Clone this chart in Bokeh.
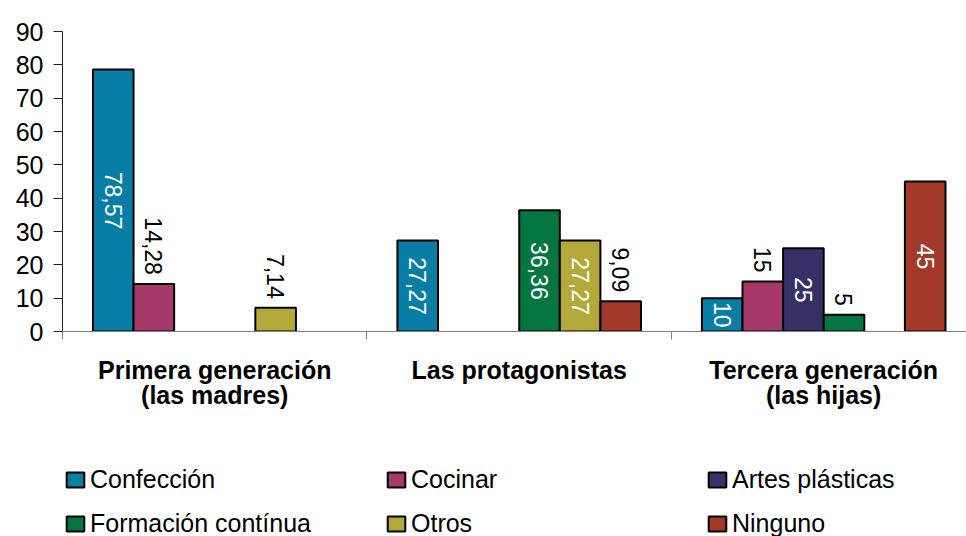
import math
from bokeh.plotting import figure
from bokeh.layouts import column
from bokeh.models import ColumnDataSource, Range1d, FixedTicker, Legend, LegendItem
from bokeh.core.properties import value
from bokeh.embed import file_html
from bokeh.resources import INLINE

# ---- data ----
groups = ["Primera generación\n(las madres)", "Las protagonistas", "Tercera generación\n(las hijas)"]
series_names = ["Confección", "Cocinar", "Artes plásticas", "Formación contínua", "Otros", "Ninguno"]
confeccion = [78.57, 27.27, 10]
cocinar = [14.28, None, 15]
artes = [None, None, 25]
formacion = [None, 36.36, 5]
otros = [7.14, 27.27, None]
ninguno = [None, 9.09, 45]
y_ticks = [0, 10, 20, 30, 40, 50, 60, 70, 80, 90]

series_values = [confeccion, cocinar, artes, formacion, otros, ninguno]
colors = ["#087DA6", "#A4396A", "#363067", "#03773F", "#B4A83A", "#A33A29"]

FONT = "Liberation Sans"

p = figure(width=966, height=440, output_backend="svg", toolbar_location=None,
           x_range=Range1d(0, 2.969), y_range=Range1d(0, 90),
           min_border_left=62, min_border_top=31, min_border_bottom=109, min_border_right=0,
           outline_line_color=None)
p.grid.visible = False

n = len(series_names)
slot = 0.8 / n
margin = 0.1


def fmt(v):
    if abs(v - round(v)) < 1e-9:
        return str(int(round(v)))
    return f"{v:.2f}".replace(".", ",")


sources = []
for i, (name, vals, col) in enumerate(zip(series_names, series_values, colors)):
    xs, tops = [], []
    for g, v in enumerate(vals):
        if v is None:
            continue
        xs.append(g + margin + slot * (i + 0.5))
        tops.append(v)
    src = ColumnDataSource(dict(x=xs, top=tops))
    sources.append(src)
    p.vbar(x="x", top="top", width=slot, bottom=0, source=src,
           fill_color=col, line_color="black", line_width=2)

    # value labels
    in_x, in_y, in_t, out_x, out_y, out_t = [], [], [], [], [], []
    for x, v in zip(xs, tops):
        if name == "Cocinar" or v < 10:
            out_x.append(x); out_y.append(v + 2.7); out_t.append(fmt(v))
        else:
            in_x.append(x); in_y.append(v / 2); in_t.append(fmt(v))
    if in_x:
        p.text(x=in_x, y=in_y, text=in_t, angle=-math.pi / 2,
               text_align="center", text_baseline="middle",
               text_font=value(FONT), text_font_size="23px", text_color="white")
    if out_x:
        p.text(x=out_x, y=out_y, text=out_t, angle=-math.pi / 2,
               text_align="right", text_baseline="middle",
               text_font=value(FONT), text_font_size="23px", text_color="black")

# ---- x axis ----
centers = [g + 0.5 for g in range(len(groups))]
xa = p.xaxis[0]
xa.ticker = FixedTicker(ticks=centers, minor_ticks=[0, 1, 2, 3])
xa.major_label_overrides = {c: lab for c, lab in zip(centers, groups)}
xa.major_tick_out = 0
xa.major_tick_in = 0
xa.minor_tick_out = 8
xa.minor_tick_in = 0
xa.minor_tick_line_color = "#808080"
xa.axis_line_color = "#808080"
xa.major_label_text_font = FONT
xa.major_label_text_font_style = "bold"
xa.major_label_text_font_size = "25px"
xa.major_label_text_color = "black"
xa.major_label_text_line_height = 0.9
xa.major_label_standoff = 16

# ---- y axis ----
ya = p.yaxis[0]
ya.ticker = FixedTicker(ticks=y_ticks)
ya.minor_tick_line_color = None
ya.major_tick_out = 9
ya.major_tick_in = 0
ya.axis_line_color = "#222222"
ya.major_tick_line_color = "#222222"
ya.major_label_text_font = FONT
ya.major_label_text_font_size = "25px"
ya.major_label_text_color = "black"
ya.major_label_standoff = 10

# ---- legend strip below the chart (same series, hidden renderers) ----
pl = figure(width=966, height=96, output_backend="svg", toolbar_location=None,
            x_range=Range1d(0, 3), y_range=Range1d(1000, 1096),
            x_axis_location=None, y_axis_location=None,
            min_border_left=0, min_border_right=0, min_border_top=0, min_border_bottom=0,
            outline_line_color=None)
pl.grid.visible = False
legend_renderers = []
for src, col in zip(sources, colors):
    legend_renderers.append(pl.vbar(x="x", top="top", width=slot, bottom=0, source=src,
                                    fill_color=col, line_color="black", line_width=2,
                                    visible=False))
items = [LegendItem(label=nm, renderers=[r]) for nm, r in zip(series_names, legend_renderers)]
for row, loc_y in enumerate([42, -2]):
    lg = Legend(items=items[row * 3:(row + 1) * 3], orientation="horizontal",
                location=(2, loc_y), padding=0, margin=0, spacing=0,
                glyph_width=22, glyph_height=19, label_standoff=4,
                label_width=295, label_height=19,
                label_text_font=FONT, label_text_font_size="25px",
                label_text_color="black",
                inactive_fill_alpha=0,
                border_line_color=None, background_fill_alpha=0)
    pl.add_layout(lg, "center")

layout = column(p, pl, spacing=0)
open("out.html", "w").write(file_html(layout, INLINE))
